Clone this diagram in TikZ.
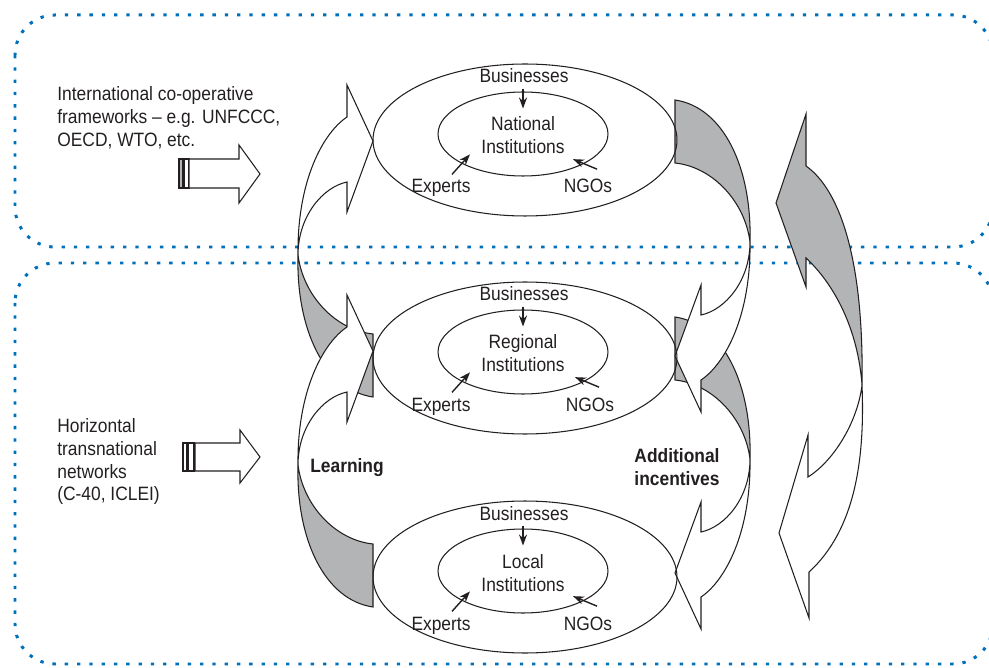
\documentclass[tikz,border=0pt]{standalone}
\usepackage{fontspec}
\setmainfont[FakeStretch=0.9]{Liberation Sans}
\usetikzlibrary{shapes.geometric,arrows.meta}
\definecolor{ink}{RGB}{35,31,32}
\definecolor{shade}{RGB}{179,180,182}
\definecolor{dotblue}{RGB}{0,112,186}

\begin{document}
\begin{tikzpicture}[x=0.02cm, y=-0.02cm, line join=miter,
	every node/.style={font=\fontsize{11}{13}\selectfont, text=ink, inner sep=0pt},
	tag/.style={font=\fontsize{11}{13}\selectfont\bfseries},
	zone/.style={draw=dotblue, line width=1.7pt, dash pattern=on 1.9pt off 5.1pt, rounded corners=0.8cm},
	ring/.style={draw=ink, ellipse, line width=0.6pt, minimum width=6.08cm, minimum height=3.04cm},
	core/.style={draw=ink, ellipse, line width=0.6pt, minimum width=3.4cm, minimum height=1.68cm},
	rim/.style={draw=ink, line width=0.6pt},
	feed/.style={draw=ink, line width=0.8pt, -{Stealth[length=2.2mm, width=1.6mm]}},
	ribbon/.pic={
		\path[rim, fill=white] (-26,-24) -- (-26,-56) -- (0,0) -- (-26,71) -- (-26,41)
			.. controls (-50,46) and (-75,75) .. (-75,114)
			.. controls (-76,40) and (-50,-8) .. (-26,-24) -- cycle;
		\path[rim, fill=shade] (-75,114) .. controls (-70,154) and (-38,189) .. (0,193)
			-- (0,256) .. controls (-48,249) and (-77,189) .. (-75,114) -- cycle;
	}]
	\useasboundingbox (0,0) rectangle (989,668);
	% the two dotted zones
	\draw[zone] (15,15) rectangle (993,247);
	\draw[zone] (15,263) rectangle (993,664);

	% left side texts and block arrows
	\node[anchor=north west, align=left] (intl) at (57,86) {International co-operative\\frameworks – e.g. UNFCCC,\\OECD, WTO, etc.};
	\node[anchor=north west, align=left] (horiz) at (57,418) {Horizontal\\transnational\\networks\\(C-40, ICLEI)};
	\path[rim, fill=shade] (179,159) rectangle (183,188);
	\path[rim, fill=white] (184,159) rectangle (189,188);
	\path[rim, fill=white] (189,159) -- (239,159) -- (239,145) -- (260,174) -- (239,203) -- (239,188) -- (189,188) -- cycle;
	\path[rim, fill=white] (183,443) rectangle (187,471);
	\path[rim, fill=white] (188,443) rectangle (194,471);
	\path[rim, fill=white] (195,443) -- (240,443) -- (240,430) -- (260,457) -- (240,483) -- (240,471) -- (195,471) -- cycle;

	% learning (left) and incentives (right) ribbons
	\pic at (373,141) {ribbon};
	\pic at (373,351) {ribbon};
	\pic[rotate=180] at (675,573) {ribbon};
	\pic[rotate=180] at (675,356) {ribbon};

	% far right double ribbon
	\path[rim, fill=shade] (806,166) -- (806,114) -- (776,203) -- (806,287) -- (806,258)
		.. controls (835,285) and (858,330) .. (862,385)
		.. controls (864,260) and (840,190) .. (806,166) -- cycle;
	\path[rim, fill=white] (808,477) -- (808,435) -- (779,533) -- (809,618) -- (809,572)
		.. controls (855,530) and (865,460) .. (862,385)
		.. controls (858,420) and (835,460) .. (808,477) -- cycle;

	% national level
	\node[ring] (natO) at (525,140) {};
	\node[core] (natI) at (523,134) {};
	\node[align=center] (natT) at (523,135) {National\\Institutions};
	\node[anchor=base] (busN) at (524,83) {Businesses};
	\node[anchor=base] (expN) at (441,193) {Experts};
	\node[anchor=base] (ngoN) at (588,193) {NGOs};
	\draw[feed] (busN.south) ++(-1,5) -- ++(0,20);
	\draw[feed] (expN.north) ++(11,-5) -- ++(18,-20);
	\draw[feed] (ngoN.north) ++(9,-10) -- ++(-24,-10);

	% regional level
	\node[ring] (regO) at (525,358) {};
	\node[core] (regI) at (523,352) {};
	\node[align=center] (regT) at (523,353) {Regional\\Institutions};
	\node[anchor=base] (busR) at (524,301) {Businesses};
	\node[anchor=base] (expR) at (441,411) {Experts};
	\node[anchor=base] (ngoR) at (590,411) {NGOs};
	\draw[feed] (busR.south) ++(-1,5) -- ++(0,20);
	\draw[feed] (expR.north) ++(11,-5) -- ++(18,-20);
	\draw[feed] (ngoR.north) ++(9,-10) -- ++(-24,-10);

	% local level
	\node[ring] (locO) at (525,577) {};
	\node[core] (locI) at (523,571) {};
	\node[align=center] (locT) at (523,573) {Local\\Institutions};
	\node[anchor=base] (busL) at (524,520) {Businesses};
	\node[anchor=base] (expL) at (441,630) {Experts};
	\node[anchor=base] (ngoL) at (588,630) {NGOs};
	\draw[feed] (busL.south) ++(-1,5) -- ++(0,20);
	\draw[feed] (expL.north) ++(11,-5) -- ++(18,-20);
	\draw[feed] (ngoL.north) ++(9,-10) -- ++(-24,-10);

	\node[tag, anchor=base] (learn) at (347,472) {Learning};
	\node[tag, align=center] (incent) at (677,467) {Additional\\incentives};
\end{tikzpicture}
\end{document}
